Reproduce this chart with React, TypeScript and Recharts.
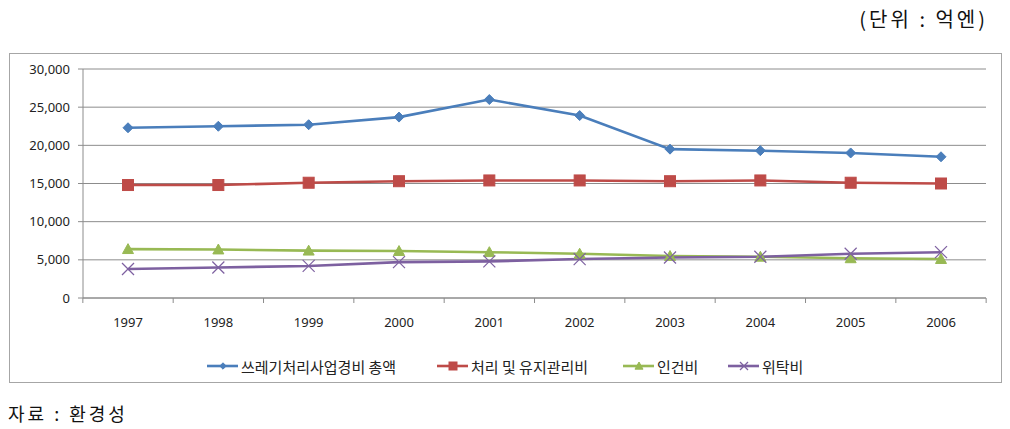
import React from 'react';
import { LineChart, Line, XAxis, YAxis, CartesianGrid } from 'recharts';

const years = ['1997', '1998', '1999', '2000', '2001', '2002', '2003', '2004', '2005', '2006'];
const totalCost = [22300, 22500, 22700, 23700, 26000, 23900, 19500, 19300, 19000, 18500];
const treatCost = [14800, 14800, 15100, 15300, 15400, 15400, 15300, 15400, 15100, 15000];
const laborCost = [6400, 6350, 6200, 6150, 6000, 5800, 5500, 5400, 5200, 5100];
const outsourceCost = [3800, 4000, 4200, 4700, 4800, 5100, 5300, 5400, 5800, 6000];
const yTicks = [0, 5000, 10000, 15000, 20000, 25000, 30000];
const seriesNames = ['쓰레기처리사업경비 총액', '처리 및 유지관리비', '인건비', '위탁비'];
const unitLabel = '(단위 : 억엔)';
const sourceLabel = '자료 : 환경성';

const colors = ['#4A7EBB', '#BE4B48', '#98B954', '#7D60A0'];
const keys = ['total', 'treat', 'labor', 'outsource'];
const shapes = ['diamond', 'square', 'triangle', 'cross'];

const data = years.map((y, i) => ({
  year: y,
  total: totalCost[i],
  treat: treatCost[i],
  labor: laborCost[i],
  outsource: outsourceCost[i],
}));

function Marker({ shape, cx, cy, color, s }: { shape: string; cx: number; cy: number; color: string; s: number }) {
  if (shape === 'diamond') {
    return <polygon points={`${cx},${cy - s} ${cx + s},${cy} ${cx},${cy + s} ${cx - s},${cy}`} fill={color} stroke={color} />;
  }
  if (shape === 'square') {
    return <rect x={cx - s} y={cy - s} width={2 * s} height={2 * s} fill={color} stroke={color} />;
  }
  if (shape === 'triangle') {
    return <polygon points={`${cx},${cy - s} ${cx + s},${cy + s * 0.8} ${cx - s},${cy + s * 0.8}`} fill={color} stroke={color} />;
  }
  return (
    <g stroke={color} strokeWidth={1.2}>
      <line x1={cx - s} y1={cy - s} x2={cx + s} y2={cy + s} />
      <line x1={cx - s} y1={cy + s} x2={cx + s} y2={cy - s} />
    </g>
  );
}

const markerSizes = [5, 5.5, 5.5, 6];

const makeDot = (i: number) => (props: any) => {
  const { cx, cy, index } = props;
  if (cx == null || cy == null) return <g key={`d${i}-${index}`} />;
  return (
    <g key={`d${i}-${index}`}>
      <Marker shape={shapes[i]} cx={cx} cy={cy} color={colors[i]} s={markerSizes[i]} />
    </g>
  );
};

const fmt = (v: number) => v.toLocaleString('en-US');

const CategoryTick = (props: any) => {
  const { x, y, payload, width, visibleTicksCount, index } = props;
  const n = visibleTicksCount || years.length;
  const band = width / n;
  const last = index === n - 1;
  return (
    <g>
      <line x1={x - band / 2} y1={y} x2={x - band / 2} y2={y + 5} stroke="#8c8c8c" />
      {last && <line x1={x + band / 2} y1={y} x2={x + band / 2} y2={y + 5} stroke="#8c8c8c" />}
      <text x={x} y={y + 29} textAnchor="middle" fontSize={13} fill="#222" fontFamily='"Noto Sans", sans-serif'>
        {payload.value}
      </text>
    </g>
  );
};

export default function App() {
  const legendX = [207, 437, 623, 728];
  return (
    <div style={{ position: 'absolute', left: 0, top: 0, width: 1010, height: 429, background: '#fff', fontFamily: '"Noto Sans CJK KR", "Noto Sans", sans-serif' }}>
      <div style={{ position: 'absolute', right: 22, top: 4, fontSize: 20, color: '#111', letterSpacing: 3, whiteSpace: 'nowrap' }}>
        {unitLabel}
      </div>
      <div style={{ position: 'absolute', left: 9, top: 53, width: 993, height: 330, border: '1px solid #a6a6a6', boxSizing: 'border-box' }} />
      <div style={{ position: 'absolute', left: 0, top: 0 }}>
        <LineChart width={1010} height={429} data={data} margin={{ top: 69, right: 24, left: 23, bottom: 101 }}>
          <CartesianGrid horizontal vertical={false} stroke="#8c8c8c" strokeWidth={1} />
          <XAxis dataKey="year" height={30} padding={{ left: 45, right: 45 }} tickLine={false} tickSize={0} tickMargin={0} axisLine={{ stroke: '#8c8c8c' }} tick={<CategoryTick />} interval={0} />
          <YAxis width={60} domain={[0, 30000]} ticks={yTicks} tickFormatter={fmt} tick={{ fontSize: 13, fill: '#222', fontFamily: '"Noto Sans", sans-serif' }} tickLine={{ stroke: '#8c8c8c' }} tickSize={5} axisLine={{ stroke: '#8c8c8c' }} tickMargin={8} />
          {keys.map((k, i) => (
            <Line key={k} dataKey={k} stroke={colors[i]} strokeWidth={2.6} isAnimationActive={false} dot={makeDot(i)} activeDot={false} type="linear" />
          ))}
        </LineChart>
      </div>
      {seriesNames.map((n, i) => (
        <div key={n} style={{ position: 'absolute', left: legendX[i], top: 356, height: 20, display: 'flex', alignItems: 'center', fontSize: 15, color: '#222', whiteSpace: 'nowrap' }}>
          <svg width={31} height={20} style={{ marginRight: 3 }}>
            <line x1={0} y1={10} x2={31} y2={10} stroke={colors[i]} strokeWidth={2.6} />
            <Marker shape={shapes[i]} cx={16} cy={10} color={colors[i]} s={i === 0 ? 3.2 : 4} />
          </svg>
          <span>{n}</span>
        </div>
      ))}
      <div style={{ position: 'absolute', left: 8, top: 400, fontSize: 18, color: '#111', letterSpacing: 3, whiteSpace: 'nowrap' }}>
        {sourceLabel}
      </div>
    </div>
  );
}
